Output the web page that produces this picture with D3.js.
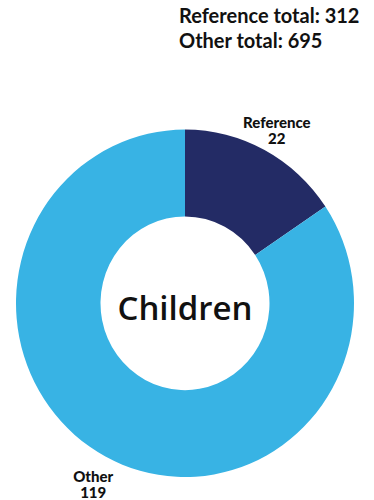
<!DOCTYPE html>
<html>
<head>
<meta charset="utf-8">
<script src="https://cdn.jsdelivr.net/npm/d3@7"></script>
<style>
  html, body { margin: 0; padding: 0; background: #ffffff; }
  svg { display: block; }
</style>
</head>
<body>
<svg id="chart" width="374" height="500"></svg>
<script>
// ---- data ----
const categories = ["Reference", "Other"];
const values = [22, 119];
const colors = ["#232B65", "#38B3E4"];
const centerLabel = "Children";
const totalLabels = ["Reference total: 312", "Other total: 695"];

// ---- layout ----
const svg = d3.select("#chart");
const cx = 185, cy = 303.3;
const outerR = 169, innerR = 84.5;
const yStretch = 1.028;

const data = categories.map((c, i) => ({ category: c, value: values[i], color: colors[i] }));

const pie = d3.pie().value(d => d.value).sort(null);
const arc = d3.arc().innerRadius(innerR).outerRadius(outerR);
const labelArc = d3.arc().innerRadius(195).outerRadius(195);

const arcs = pie(data);

const g = svg.append("g").attr("transform", `translate(${cx},${cy})`);

g.append("g")
  .attr("transform", `scale(1,${yStretch})`)
  .selectAll("path")
  .data(arcs)
  .join("path")
  .attr("d", arc)
  .attr("fill", d => d.data.color);

// slice labels
const labels = g.selectAll("text.slice-label")
  .data(arcs)
  .join("text")
  .attr("class", "slice-label")
  .attr("transform", d => {
    const [x, y] = labelArc.centroid(d);
    return `translate(${x},${y * yStretch})`;
  })
  .attr("text-anchor", "middle")
  .style("font-family", "Lato, sans-serif")
  .style("font-weight", 900)
  .style("font-size", "15px")
  .attr("fill", "#111111");

labels.append("tspan").attr("x", 0).attr("y", 1.5).text(d => d.data.category);
labels.append("tspan").attr("x", 0).attr("y", 17.5).text(d => d.data.value);

// center label
g.append("text")
  .attr("x", 0)
  .attr("y", 17)
  .attr("text-anchor", "middle")
  .style("font-family", "'Open Sans', sans-serif")
  .style("font-weight", 600)
  .style("font-size", "33px")
  .attr("fill", "#111111")
  .text(centerLabel);

// totals
svg.append("g")
  .selectAll("text")
  .data(totalLabels)
  .join("text")
  .attr("x", 179)
  .attr("y", (d, i) => 22.7 + i * 25)
  .style("font-family", "Lato, sans-serif")
  .style("font-weight", 700)
  .style("font-size", "20px")
  .attr("fill", "#111111")
  .text(d => d);
</script>
</body>
</html>
